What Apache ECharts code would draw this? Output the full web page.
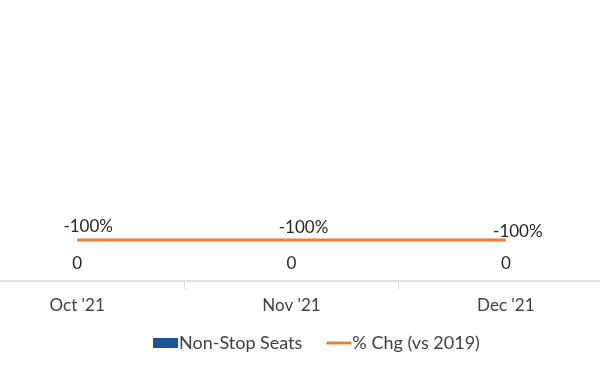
<!DOCTYPE html>
<html><head><meta charset="utf-8">
<script src="https://cdn.jsdelivr.net/npm/echarts@6/dist/echarts.min.js"></script>
<style>html,body{margin:0;padding:0;background:#fff}#c{width:600px;height:384px}</style>
</head><body><div id="c"></div>
<script>
const categories = ["Oct '21", "Nov '21", "Dec '21"];
const seats = [0, 0, 0];
const pctChg = [-100, -100, -100];
const pctLabelOffsets = [[11, -1], [12, 0], [12, 4]];

const chart = echarts.init(document.getElementById('c'));
const font = 'Lato, "Open Sans", sans-serif';
chart.setOption({
  animation: false,
  textStyle: { fontFamily: font },
  grid: { left: -30, width: 643, top: 76, height: 205, containLabel: false, outerBoundsMode: 'none' },
  legend: {
    top: 329, left: 148, itemGap: 24, itemWidth: 25, itemHeight: 10,
    textStyle: { fontFamily: font, fontSize: 18, color: '#404040', padding: [0, 0, 0, -4] },
    data: [{ name: 'Non-Stop Seats', icon: 'rect' },
           { name: '% Chg (vs 2019)', icon: 'path://M0,0L26,0L26,3L0,3Z',
             itemStyle: { color: '#ED7D31', opacity: 1 } }]
  },
  xAxis: {
    type: 'category', data: categories, boundaryGap: true,
    axisLine: { lineStyle: { color: '#d9d9d9', width: 1.5 } },
    axisTick: { show: true, length: 8, lineStyle: { color: '#d9d9d9' } },
    axisLabel: { fontSize: 17, color: '#404040', margin: 16, fontFamily: font }
  },
  yAxis: [
    { type: 'value', min: 0, max: 10, show: false, splitLine: { show: false } },
    { type: 'value', min: -125, max: 0, show: false, splitLine: { show: false } }
  ],
  series: [
    {
      name: 'Non-Stop Seats', type: 'bar', data: seats, yAxisIndex: 0,
      itemStyle: { color: '#1B5593' }, barWidth: '50%',
      label: { show: true, position: 'top', distance: 9, fontSize: 17, color: '#262626', fontFamily: font }
    },
    {
      name: '% Chg (vs 2019)', type: 'line', yAxisIndex: 1,
      symbol: 'circle', symbolSize: 1, showSymbol: true,
      lineStyle: { color: '#ED7D31', width: 3 }, itemStyle: { color: 'rgba(0,0,0,0)' },
      label: { show: true, position: 'top', distance: 3, fontSize: 17, color: '#262626', fontFamily: font,
        formatter: p => p.value + '%' },
      data: pctChg.map((v, i) => ({
        value: v,
        label: { offset: pctLabelOffsets[i] }
      }))
    }
  ]
});
</script></body></html>
